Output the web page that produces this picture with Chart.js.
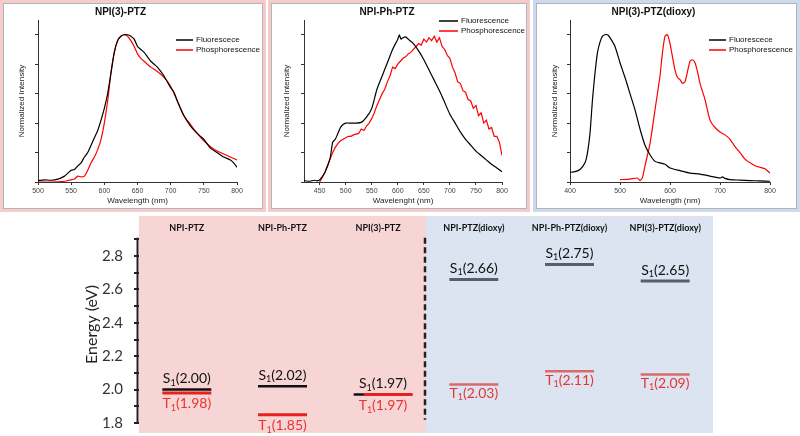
<!DOCTYPE html>
<html>
<head>
<meta charset="utf-8">
<script src="https://cdn.jsdelivr.net/npm/chart.js@4.4.1/dist/chart.umd.min.js"></script>
<style>
  body { margin: 0; width: 800px; height: 436px; position: relative; overflow: hidden; background: #fff; }
  .frame { position: absolute; top: 0; height: 212px; box-sizing: border-box; border: 3px solid #f6cbcb; }
  .frame.blue { border-color: #cdd9ec; }
  .inner { width: 100%; height: 100%; box-sizing: border-box; border: 1px solid #b4b4b4; background: #fff; }
  canvas { display: block; }
  #levels { position: absolute; left: 0; top: 212px; }
</style>
</head>
<body>
<div class="frame" style="left:0;width:266px"><div class="inner"><canvas id="p1" width="258" height="204"></canvas></div></div>
<div class="frame" style="left:268px;width:262px"><div class="inner"><canvas id="p2" width="254" height="204"></canvas></div></div>
<div class="frame blue" style="left:533px;width:267px"><div class="inner"><canvas id="p3" width="259" height="204"></canvas></div></div>
<canvas id="levels" width="800" height="224"></canvas>

<script>
// --- Spectres ---
// NPI(3)-PTZ
const p1FlWl = [500,510,520,530,540,545,550,555,560,565,570,575,580,585,590,595,600,605,610,615,620,625,630,635,640,645,650,655,660,665,670,675,680,690,700,705,710,720,730,740,745,750,760,770,780,790,795,800];
const p1Fl   = [0.01,0.015,0.012,0.02,0.04,0.06,0.08,0.085,0.11,0.13,0.17,0.2,0.25,0.3,0.35,0.42,0.5,0.6,0.74,0.88,0.96,0.99,1.0,1.0,0.99,0.97,0.92,0.90,0.88,0.85,0.82,0.80,0.78,0.72,0.64,0.61,0.55,0.45,0.38,0.33,0.31,0.29,0.23,0.2,0.17,0.15,0.13,0.10];
const p1PhWl = [500,520,540,545,550,555,560,565,570,575,580,585,590,595,600,605,610,615,620,625,630,635,640,645,650,655,660,670,680,690,700,710,720,730,740,750,760,770,780,790,800];
const p1Ph   = [0,0,0.005,0.01,0.015,0.02,0.04,0.035,0.04,0.08,0.13,0.17,0.22,0.29,0.40,0.55,0.74,0.88,0.96,0.99,1.0,0.99,0.96,0.92,0.87,0.84,0.82,0.78,0.75,0.71,0.65,0.55,0.45,0.39,0.33,0.28,0.24,0.21,0.19,0.17,0.15];

// NPI-Ph-PTZ
const p2FlWl = [420,430,440,445,450,460,470,475,480,485,490,495,500,510,520,530,540,550,560,570,580,590,600,603,606,610,615,620,630,640,650,660,670,680,690,700,710,720,730,740,750,760,770,780,790,800];
const p2Fl   = [0.01,0.005,0.012,0.008,0.015,0.065,0.16,0.27,0.29,0.33,0.37,0.39,0.40,0.40,0.40,0.405,0.44,0.50,0.63,0.72,0.81,0.90,0.97,1.0,0.97,0.98,0.985,0.97,0.94,0.89,0.83,0.76,0.69,0.62,0.54,0.46,0.40,0.34,0.29,0.25,0.21,0.18,0.15,0.12,0.095,0.07];
const p2PhWl = [450,455,460,465,470,475,480,485,490,495,500,505,510,515,520,525,530,535,540,545,550,555,560,565,570,575,580,585,590,595,600,605,610,615,620,625,630,635,640,645,650,655,660,665,670,675,680,685,690,695,700,705,710,715,720,725,730,735,740,745,750,755,760,765,770,775,780,785,790,795,800];
const p2Ph   = [0,0.03,0.065,0.11,0.155,0.2,0.235,0.26,0.28,0.29,0.30,0.31,0.31,0.32,0.325,0.33,0.36,0.35,0.38,0.40,0.43,0.47,0.52,0.56,0.60,0.63,0.68,0.72,0.78,0.77,0.80,0.82,0.84,0.85,0.87,0.88,0.90,0.92,0.94,0.93,0.97,0.95,0.98,0.96,0.99,0.95,0.98,0.92,0.90,0.86,0.84,0.78,0.74,0.68,0.67,0.62,0.61,0.56,0.55,0.50,0.52,0.45,0.47,0.40,0.42,0.36,0.37,0.31,0.31,0.27,0.18];

// NPI(3)-PTZ(dioxy)
const p3FlWl = [400,410,420,430,435,440,445,450,455,460,465,470,475,480,490,500,510,520,530,540,550,560,570,580,590,600,620,640,660,680,700,705,710,720,740,760,780,800];
const p3Fl   = [0.065,0.07,0.085,0.13,0.2,0.33,0.56,0.74,0.88,0.95,0.99,1.0,1.0,0.98,0.92,0.81,0.71,0.60,0.49,0.36,0.25,0.185,0.14,0.13,0.12,0.095,0.077,0.06,0.054,0.04,0.027,0.035,0.025,0.016,0.013,0.01,0.007,0.005];
const p3PhWl = [500,520,535,540,545,550,560,570,580,585,590,595,600,605,610,615,620,625,630,635,640,645,650,655,660,670,680,690,700,710,720,730,740,750,760,770,780,790,800];
const p3Ph   = [0.016,0.02,0.027,0.01,0.03,0.11,0.26,0.49,0.72,0.88,0.99,1.0,0.94,0.85,0.76,0.71,0.695,0.67,0.68,0.75,0.82,0.83,0.81,0.75,0.67,0.56,0.42,0.37,0.34,0.32,0.29,0.24,0.20,0.155,0.13,0.11,0.10,0.09,0.06];

const p1Ticks = [500,550,600,650,700,750,800];
const p2Ticks = [450,500,550,600,650,700,750,800];
const p3Ticks = [400,500,600,700,800];
const intensityTicks = [0,0.2,0.4,0.6,0.8,1.0];

// --- Niveaux d'energie ---
const categories = ['NPI-PTZ','NPI-Ph-PTZ','NPI(3)-PTZ','NPI-PTZ(dioxy)','NPI-Ph-PTZ(dioxy)','NPI(3)-PTZ(dioxy)'];
const s1Energy = [2.00,2.02,1.97,2.66,2.75,2.65];
const t1Energy = [1.98,1.85,1.97,2.03,2.11,2.09];
const energyTicks  = [1.8,1.9,2.0,2.1,2.2,2.3,2.4,2.5,2.6,2.7,2.8,2.9];
const energyLabels = ['1.8','','2.0','','2.2','','2.4','','2.6','','2.8',''];

const ARIAL = '"Liberation Sans", Arial, sans-serif';
const LATO = 'Lato, "Open Sans", sans-serif';

const pts = (xs, ys) => xs.map((x, i) => ({ x, y: ys[i] }));

// legende dessinee dans la zone du graphe
const inlineLegend = {
  id: 'inlineLegend',
  afterDatasetsDraw(chart, args, opts) {
    const { ctx, chartArea } = chart;
    ctx.save();
    ctx.font = '8px ' + ARIAL;
    ctx.textBaseline = 'middle';
    chart.data.datasets.forEach((ds, i) => {
      const y = chartArea.top + opts.dy + i * 10;
      const x0 = chartArea.right + opts.dx;
      ctx.strokeStyle = ds.borderColor;
      ctx.lineWidth = 1.5;
      ctx.beginPath(); ctx.moveTo(x0, y); ctx.lineTo(x0 + opts.len, y); ctx.stroke();
      ctx.fillStyle = '#111';
      ctx.fillText(ds.label, x0 + opts.len + 3, y);
    });
    ctx.restore();
  }
};

function spectrumPanel(id, cfg) {
  return new Chart(document.getElementById(id), {
    type: 'line',
    data: {
      datasets: [
        { label: cfg.flLabel, data: pts(cfg.flWl, cfg.fl), borderColor: '#000', borderWidth: 1.2, pointRadius: 0, tension: 0.2 },
        { label: 'Phosphorescence', data: pts(cfg.phWl, cfg.ph), borderColor: '#f00', borderWidth: 1.2, pointRadius: 0, tension: cfg.phTension }
      ]
    },
    options: {
      responsive: false, animation: false, events: [],
      layout: { padding: { left: 0, right: cfg.padRight, top: 0, bottom: 0 } },
      plugins: {
        legend: { display: false }, tooltip: { enabled: false },
        title: { display: true, text: cfg.title, color: '#111', font: { family: ARIAL, size: 10, weight: 'bold' }, padding: { top: 2, bottom: 2 } },
        inlineLegend: cfg.legend
      },
      scales: {
        x: {
          type: 'linear', min: cfg.xMin, max: 800,
          afterBuildTicks: s => { s.ticks = cfg.xTicks.map(v => ({ value: v })); },
          afterFit: s => { s.height = 26; s.paddingLeft = 0; s.paddingRight = 0; },
          grid: { drawOnChartArea: false, tickLength: 3, color: '#333' },
          border: { color: '#333', width: 1 },
          ticks: { font: { family: ARIAL, size: 7 }, color: '#444', padding: 2, maxRotation: 0, autoSkip: false },
          title: { display: true, text: cfg.xTitle, color: '#222', font: { family: ARIAL, size: 8 }, padding: { top: 0, bottom: 2 } }
        },
        y: {
          min: 0, max: 1.1,
          afterBuildTicks: s => { s.ticks = intensityTicks.map(v => ({ value: v })); },
          afterFit: s => { s.width = cfg.yWidth; s.paddingTop = 0; s.paddingBottom = 0; },
          grid: { drawOnChartArea: false, tickLength: 3, color: '#333' },
          border: { color: '#333', width: 1 },
          ticks: { display: false },
          title: { display: true, text: 'Normalized Intensity', color: '#222', font: { family: ARIAL, size: 8 }, padding: { top: cfg.yTitlePad, bottom: 0 } }
        }
      }
    },
    plugins: [inlineLegend]
  });
}

spectrumPanel('p1', {
  title: 'NPI(3)-PTZ', flLabel: 'Fluorescece', xTitle: 'Wavelength (nm)',
  flWl: p1FlWl, fl: p1Fl, phWl: p1PhWl, ph: p1Ph, phTension: 0.2,
  xMin: 500, xTicks: p1Ticks, yWidth: 34, yTitlePad: 13, padRight: 25,
  legend: { dx: -61, dy: 20, len: 17 }
});
spectrumPanel('p2', {
  title: 'NPI-Ph-PTZ', flLabel: 'Fluorescence', xTitle: 'Wavelenght (nm)',
  flWl: p2FlWl, fl: p2Fl, phWl: p2PhWl, ph: p2Ph, phTension: 0,
  xMin: 420, xTicks: p2Ticks, yWidth: 32, yTitlePad: 10, padRight: 24,
  legend: { dx: -63, dy: 1, len: 19 }
});
spectrumPanel('p3', {
  title: 'NPI(3)-PTZ(dioxy)', flLabel: 'Fluorescece', xTitle: 'Wavelength (nm)',
  flWl: p3FlWl, fl: p3Fl, phWl: p3PhWl, ph: p3Ph, phTension: 0.2,
  xMin: 400, xTicks: p3Ticks, yWidth: 33, yTitlePad: 13, padRight: 26,
  legend: { dx: -61, dy: 20, len: 17 }
});

// --- Diagramme des niveaux ---
const HALF = 0.256;
const levelDatasets = [];
categories.forEach((name, i) => {
  const dioxy = i >= 3;
  const shift = s1Energy[i] === t1Energy[i] ? 0.105 : 0;
  const cx = i + 0.5;
  levelDatasets.push({
    data: [{ x: cx - HALF, y: s1Energy[i] }, { x: cx + HALF, y: s1Energy[i] }],
    borderColor: dioxy ? '#56606c' : '#111', borderWidth: dioxy ? 3 : 2.5, order: 1
  });
  levelDatasets.push({
    data: [{ x: cx - HALF + shift, y: t1Energy[i] }, { x: cx + HALF + shift, y: t1Energy[i] }],
    borderColor: dioxy ? '#d86a6a' : '#e8201e', borderWidth: dioxy ? 2.5 : 3, order: 0
  });
});

function drawLevelLabel(ctx, letter, value, cx, cy, color) {
  const main = '14px ' + LATO, sub = '9px ' + LATO;
  const rest = '(' + value.toFixed(2) + ')';
  ctx.font = main; const wL = ctx.measureText(letter).width; const wR = ctx.measureText(rest).width;
  ctx.font = sub; const wS = ctx.measureText('1').width;
  let x = cx - (wL + wS + wR) / 2;
  ctx.fillStyle = color;
  ctx.textAlign = 'left'; ctx.textBaseline = 'middle';
  ctx.font = main; ctx.fillText(letter, x, cy); x += wL;
  ctx.font = sub; ctx.fillText('1', x, cy + 4); x += wS;
  ctx.font = main; ctx.fillText(rest, x, cy);
}

const levelDecor = {
  id: 'levelDecor',
  beforeDraw(chart) {
    const { ctx, chartArea: a, scales: { x } } = chart;
    const mid = x.getPixelForValue(3);
    ctx.save();
    ctx.fillStyle = '#f8d5d5';
    ctx.fillRect(a.left, a.top, mid - a.left, a.bottom - a.top);
    ctx.fillStyle = '#dce4f2';
    ctx.fillRect(mid, a.top, a.right - mid, a.bottom - a.top);
    ctx.restore();
  },
  afterDatasetsDraw(chart) {
    const { ctx, chartArea: a, scales: { x, y } } = chart;
    ctx.save();
    // axe vertical
    ctx.strokeStyle = '#222'; ctx.lineWidth = 2;
    ctx.beginPath();
    ctx.moveTo(a.left - 1.5, y.getPixelForValue(2.91));
    ctx.lineTo(a.left - 1.5, y.getPixelForValue(1.8) + 1);
    ctx.stroke();
    // separateur pointille
    ctx.setLineDash([6, 3.5]); ctx.lineWidth = 2.5;
    const mx = x.getPixelForValue(3) - 1;
    ctx.beginPath();
    ctx.moveTo(mx, y.getPixelForValue(2.91));
    ctx.lineTo(mx, y.getPixelForValue(1.82));
    ctx.stroke();
    ctx.setLineDash([]);
    // noms des molecules
    ctx.fillStyle = '#111'; ctx.font = 'bold 9px ' + LATO;
    ctx.textAlign = 'center'; ctx.textBaseline = 'middle';
    categories.forEach((name, i) => ctx.fillText(name, x.getPixelForValue(i + 0.5), a.top + 12));
    // etiquettes S1 / T1
    categories.forEach((name, i) => {
      const dioxy = i >= 3;
      const same = s1Energy[i] === t1Energy[i];
      const cx = x.getPixelForValue(i + 0.5 + (same ? 0.05 : 0));
      drawLevelLabel(ctx, 'S', s1Energy[i], cx, y.getPixelForValue(s1Energy[i]) - 11, '#111');
      drawLevelLabel(ctx, 'T', t1Energy[i], cx, y.getPixelForValue(t1Energy[i]) + (dioxy ? 9 : 11), '#e83431');
    });
    ctx.restore();
  }
};

new Chart(document.getElementById('levels'), {
  type: 'line',
  data: { datasets: levelDatasets.map(d => ({ ...d, pointRadius: 0, fill: false })) },
  options: {
    responsive: false, animation: false, events: [],
    layout: { padding: { left: 0, right: 87, top: 4, bottom: 3 } },
    plugins: { legend: { display: false }, tooltip: { enabled: false } },
    scales: {
      x: { type: 'linear', min: 0, max: 6, display: false },
      y: {
        min: 1.74, max: 3.04,
        afterBuildTicks: s => { s.ticks = energyTicks.map(v => ({ value: v })); },
        afterFit: s => { s.width = 139; s.paddingTop = 0; s.paddingBottom = 0; },
        grid: { drawOnChartArea: false, tickLength: 5, color: '#222', lineWidth: 2 },
        border: { display: false },
        ticks: { callback: (v, i) => energyLabels[i], font: { family: LATO, size: 15 }, color: '#333', padding: 11, autoSkip: false },
        title: { display: true, text: 'Energy (eV)', color: '#222', font: { family: LATO, size: 16 }, padding: { top: 82, bottom: 0 } }
      }
    }
  },
  plugins: [levelDecor]
});
</script>
</body>
</html>
